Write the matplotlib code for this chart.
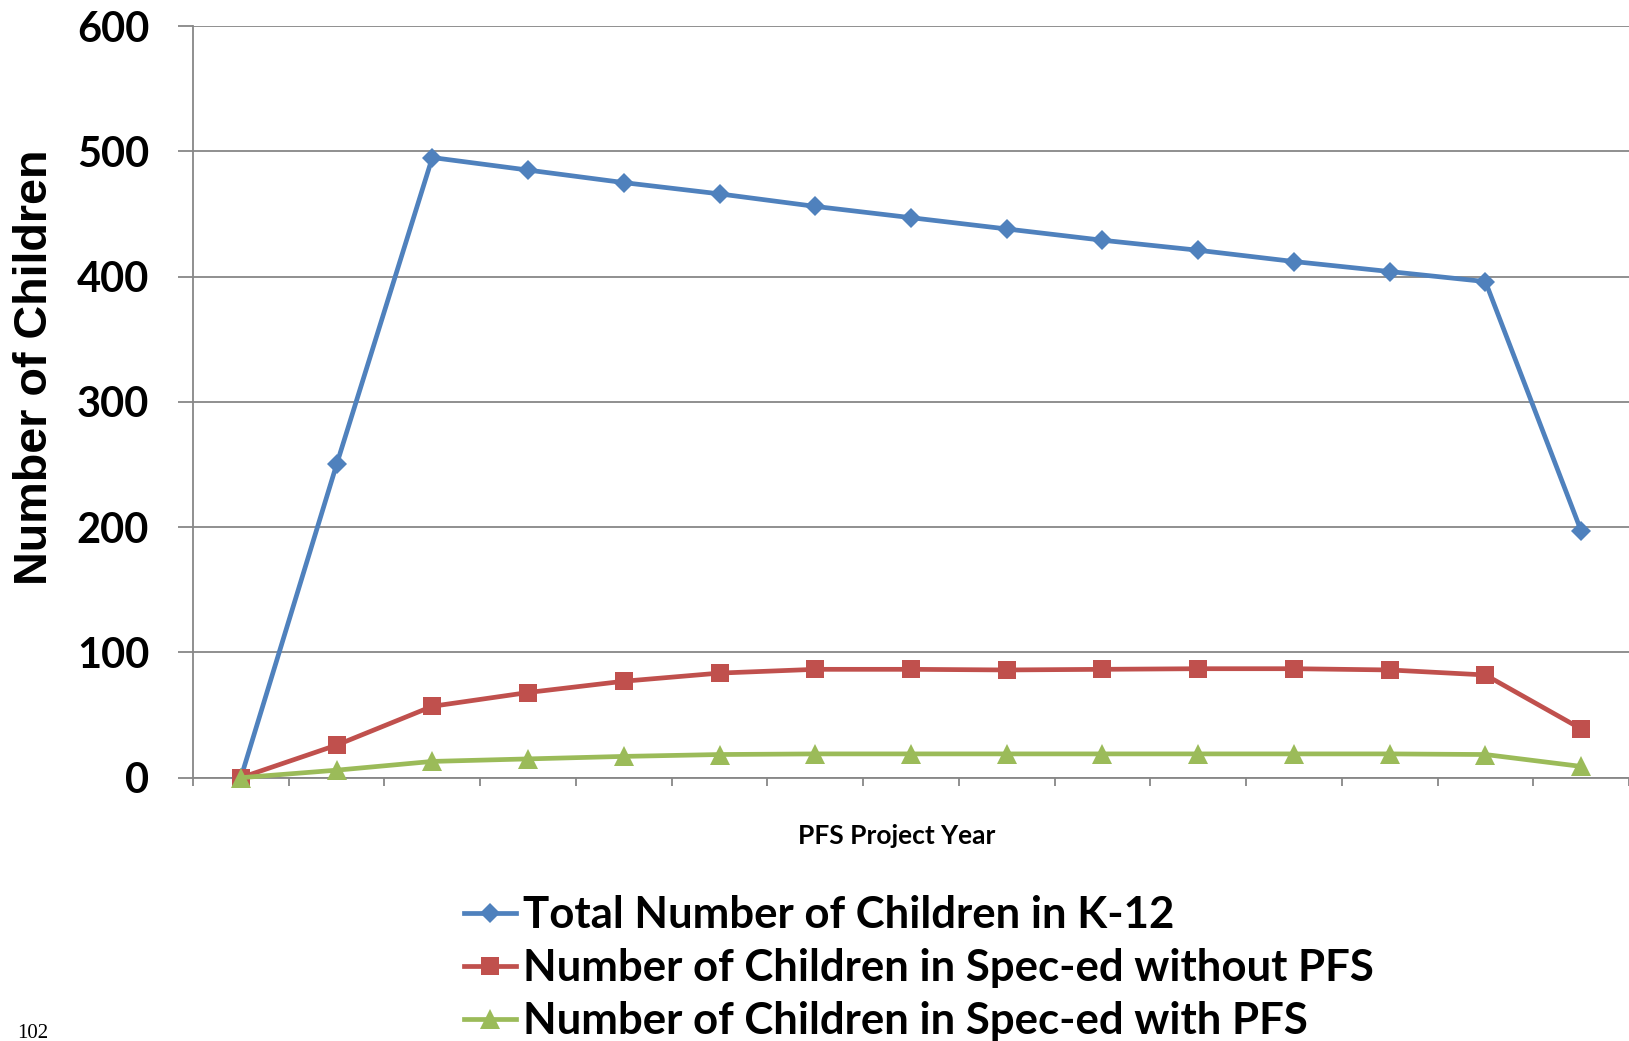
import matplotlib
matplotlib.use("Agg")
import matplotlib.pyplot as plt
from matplotlib.lines import Line2D

# PFS project years (unlabelled categories on the x axis)
project_years = [1, 2, 3, 4, 5, 6, 7, 8, 9, 10, 11, 12, 13, 14, 15]

total_k12 = [0, 250, 495, 485, 475, 466, 456, 447, 438, 429, 421, 412, 404, 396, 197]
sped_without_pfs = [0, 26, 57, 68, 77, 83.5, 86.5, 86.5, 86, 86.5, 87, 87, 86, 82, 39]
sped_with_pfs = [0, 6, 13, 15, 17, 18.5, 19, 19, 19, 19, 19, 19, 19, 18.5, 9]

series_labels = [
    "Total Number of Children in K-12",
    "Number of Children in Spec-ed without PFS",
    "Number of Children in Spec-ed with PFS",
]
series_colors = ["#4F81BD", "#C0504D", "#9BBB59"]
series_markers = ["D", "s", "^"]
marker_sizes = [10.5, 13.5, 14]

y_ticks = [0, 100, 200, 300, 400, 500, 600]

W, H = 1629, 1041
fig = plt.figure(figsize=(W / 100, H / 100), dpi=100)
ax_left, ax_top, ax_bottom = 193, 26, 777.7
ax = fig.add_axes([ax_left / W, 1 - ax_bottom / H, 1 - ax_left / W, (ax_bottom - ax_top) / H])

grid_color = "#878787"
bold_font = {"family": "Lato", "weight": "bold"}

for values, color, marker, ms in zip(
    [total_k12, sped_without_pfs, sped_with_pfs], series_colors, series_markers, marker_sizes
):
    ax.plot(project_years, values, color=color, lw=3.4, marker=marker,
            markersize=ms, markeredgewidth=0, clip_on=False, zorder=3,
            solid_joinstyle="round", solid_capstyle="round")

ax.set_ylim(0, 600)
ax.set_xlim(project_years[0] - 0.5, project_years[-1] + 0.5)
ax.set_yticks(y_ticks)
ax.set_yticklabels([str(v) for v in y_ticks], fontdict=bold_font, fontsize=30)
ax.set_xticks([y - 0.5 for y in project_years] + [project_years[-1] + 0.5])
ax.set_xticklabels([])

ax.yaxis.grid(True, color=grid_color, lw=1.3)
ax.set_axisbelow(True)
for side in ("top", "right"):
    ax.spines[side].set_visible(False)
for side in ("left", "bottom"):
    ax.spines[side].set_color(grid_color)
    ax.spines[side].set_linewidth(1.3)

ax.tick_params(axis="y", length=10.5, width=1.3, color=grid_color, pad=21, labelcolor="black")
ax.tick_params(axis="x", length=6, width=1.3, color=grid_color)

fig.text(35 / W, 1 - 367 / H, "Number of Children", rotation=90, ha="center", va="center",
         family="Liberation Sans", weight="bold", fontsize=33.7)
fig.text(897 / W, 1 - 836 / H, "PFS Project Year", ha="center", va="center",
         fontdict=bold_font, fontsize=19)

leg_handles = [Line2D([], [], color=c, lw=3.4, marker=m, markersize=s, markeredgewidth=0)
               for c, m, s in zip(series_colors, series_markers, marker_sizes)]
fig.legend(leg_handles, series_labels, loc="upper left",
           bbox_to_anchor=(464 / W, 1 - 895 / H), frameon=False,
           prop={"family": "Lato", "weight": "bold", "size": 31.5},
           handlelength=1.19, handletextpad=0.16, labelspacing=0.30,
           borderpad=0, borderaxespad=0)

fig.text(17 / W, 1 - 1038 / H, "102", ha="left", va="baseline",
         family="Liberation Serif", fontsize=15)

fig.savefig("out.png", dpi=100)
